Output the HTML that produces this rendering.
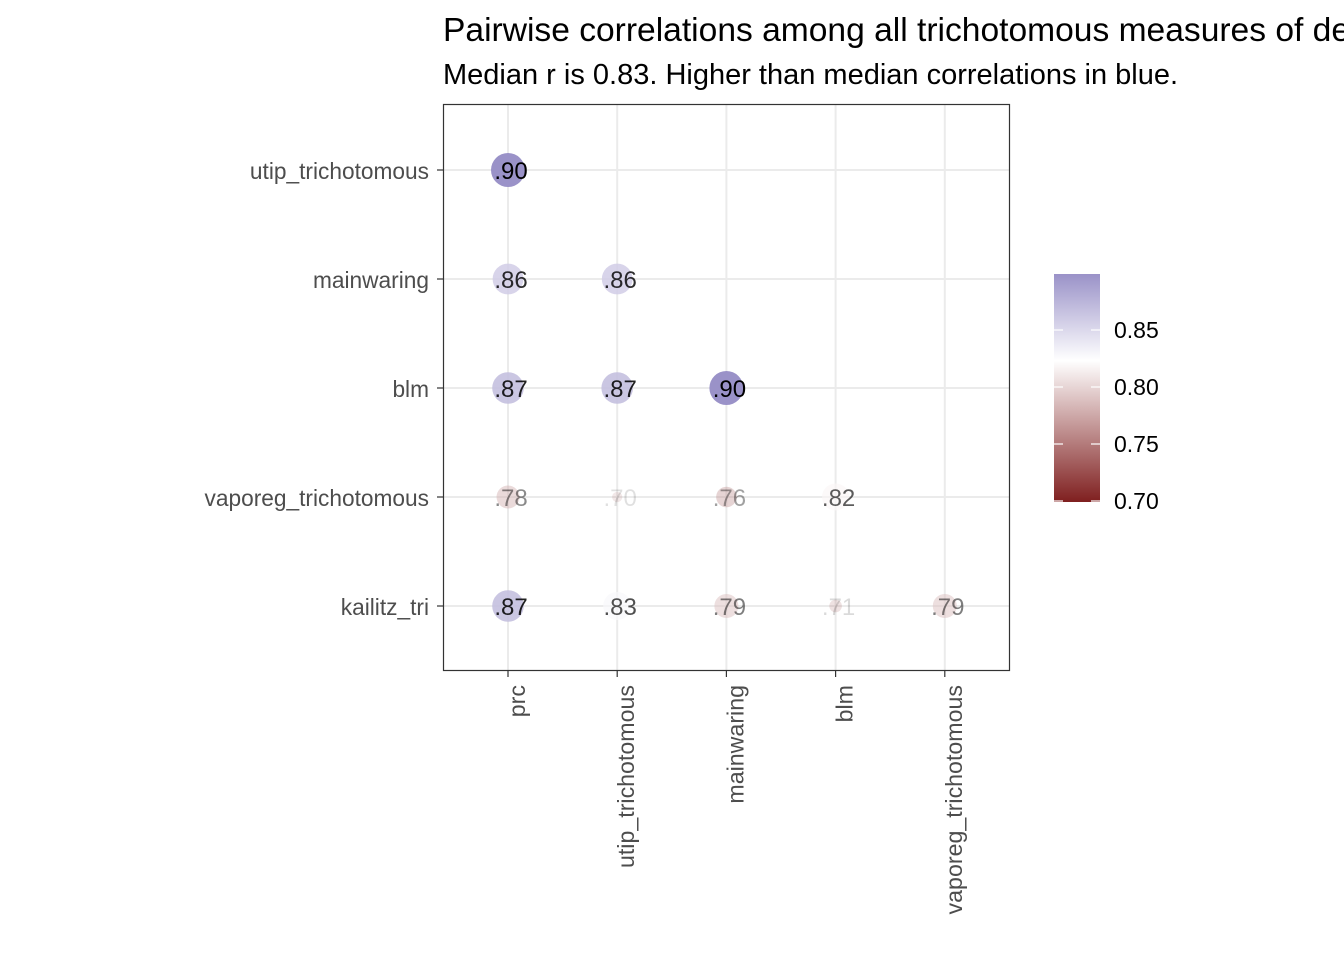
<!DOCTYPE html>
<html><head><meta charset="utf-8"><style>
body{margin:0;background:#fff;}
svg{display:block;font-family:"Liberation Sans",Arial,sans-serif;}
</style></head><body>
<svg id="chart" width="1344" height="960">
<defs>
<linearGradient id="grad" x1="0" y1="1" x2="0" y2="0">
<stop offset="0" stop-color="#7f1f1f"/>
<stop offset="0.62" stop-color="#ffffff"/>
<stop offset="1" stop-color="#9a92c8"/>
</linearGradient>
</defs>
<text x="443" y="41" font-size="33.6" fill="#000">Pairwise correlations among all trichotomous measures of democracy</text>
<text x="443" y="84" font-size="29" fill="#000">Median r is 0.83. Higher than median correlations in blue.</text>
<rect x="443.5" y="104.5" width="566" height="566" fill="#fff"/>
<g id="grid"></g>
<g id="points"></g>
<rect x="443.5" y="104.5" width="566" height="566" fill="none" stroke="#333" stroke-width="1.2"/>
<g id="axes"></g>
<g>
<rect x="1054" y="274" width="46" height="228" fill="url(#grad)"/>
<g id="legend"></g>
</g>
</svg>
<script>
const xCats = ["prc","utip_trichotomous","mainwaring","blm","vaporeg_trichotomous"];
const yCats = ["utip_trichotomous","mainwaring","blm","vaporeg_trichotomous","kailitz_tri"];
const cellRow = [0,1,1,2,2,2,3,3,3,3,4,4,4,4,4];
const cellCol = [0,0,1,0,1,2,0,1,2,3,0,1,2,3,4];
const cellVal = [0.90,0.86,0.86,0.87,0.87,0.90,0.78,0.70,0.76,0.82,0.87,0.83,0.79,0.71,0.79];
const legendTicks = [0.70,0.75,0.80,0.85];
const NS="http://www.w3.org/2000/svg";
function xPos(i){return 508+i*109.2;}
function yPos(i){return 170+i*109;}
function legY(v){return 501-(v-0.70)/0.05*57;}
function mk(t,a,p){const e=document.createElementNS(NS,t);for(const k in a)e.setAttribute(k,a[k]);p.appendChild(e);return e;}
function lerp(a,b,t){return a.map((x,i)=>Math.round(x+(b[i]-x)*t));}
function color(v){const mid=0.825;const red=[127,31,31],w=[255,255,255],p=[154,146,200];
 let c; if(v<mid){c=lerp(red,w,Math.max(0,(v-0.70)/(mid-0.70)));}else{c=lerp(w,p,Math.min(1,(v-mid)/(0.899-mid)));}
 return `rgb(${c[0]},${c[1]},${c[2]})`;}
const grid=document.getElementById('grid'),pts=document.getElementById('points'),ax=document.getElementById('axes'),leg=document.getElementById('legend');
xCats.forEach((c,i)=>{
 const l=mk('line',{x1:xPos(i),x2:xPos(i),y1:105,y2:670,stroke:'#ebebeb','stroke-width':2},grid);
 
 const t=mk('line',{x1:xPos(i),x2:xPos(i),y1:671,y2:677,stroke:'#333','stroke-width':1.2},ax);
 
 const tx=mk('text',{x:0,y:0,'font-size':23.2,fill:'#4d4d4d','text-anchor':'end',transform:`translate(${xPos(i)+17},685) rotate(-90)`},ax);
 tx.textContent=c;
 
});
yCats.forEach((c,i)=>{
 const l=mk('line',{x1:444,x2:1009,y1:yPos(i),y2:yPos(i),stroke:'#ebebeb','stroke-width':2},grid);
 
 const t=mk('line',{x1:437,x2:443,y1:yPos(i),y2:yPos(i),stroke:'#333','stroke-width':1.2},ax);
 
 const tx=mk('text',{x:429,y:yPos(i)+9,'font-size':22.7,fill:'#4d4d4d','text-anchor':'end'},ax);
 tx.textContent=c;
 
});
cellVal.forEach((v,k)=>{
 const cx=xPos(cellCol[k]),cy=yPos(cellRow[k]);
 const a=Math.max(0.08,Math.min(1,0.1+0.9*(v-0.70)/0.2));
 const r=17*Math.sqrt(Math.max(0.05,(v-0.68)/0.22));
 const c=mk('circle',{cx:cx,cy:cy,r:r,fill:color(v),'fill-opacity':a},pts);
 
 const t=mk('text',{x:cx+3,y:cy+9,'font-size':24,fill:'#000','fill-opacity':Math.max(0.12,a),'text-anchor':'middle'},pts);
 t.textContent=v.toFixed(2).replace(/^0/,'');
 
});
legendTicks.forEach(v=>{
 const y=legY(v);
 const t1=mk('line',{x1:1054,x2:1063,y1:y,y2:y,stroke:'#fff','stroke-width':1.2},leg);
 
 const t2=mk('line',{x1:1091,x2:1100,y1:y,y2:y,stroke:'#fff','stroke-width':1.2},leg);
 
 const tx=mk('text',{x:1114,y:y+8,'font-size':23,fill:'#000'},leg);
 tx.textContent=v.toFixed(2);
 
});
</script>
</body></html>
